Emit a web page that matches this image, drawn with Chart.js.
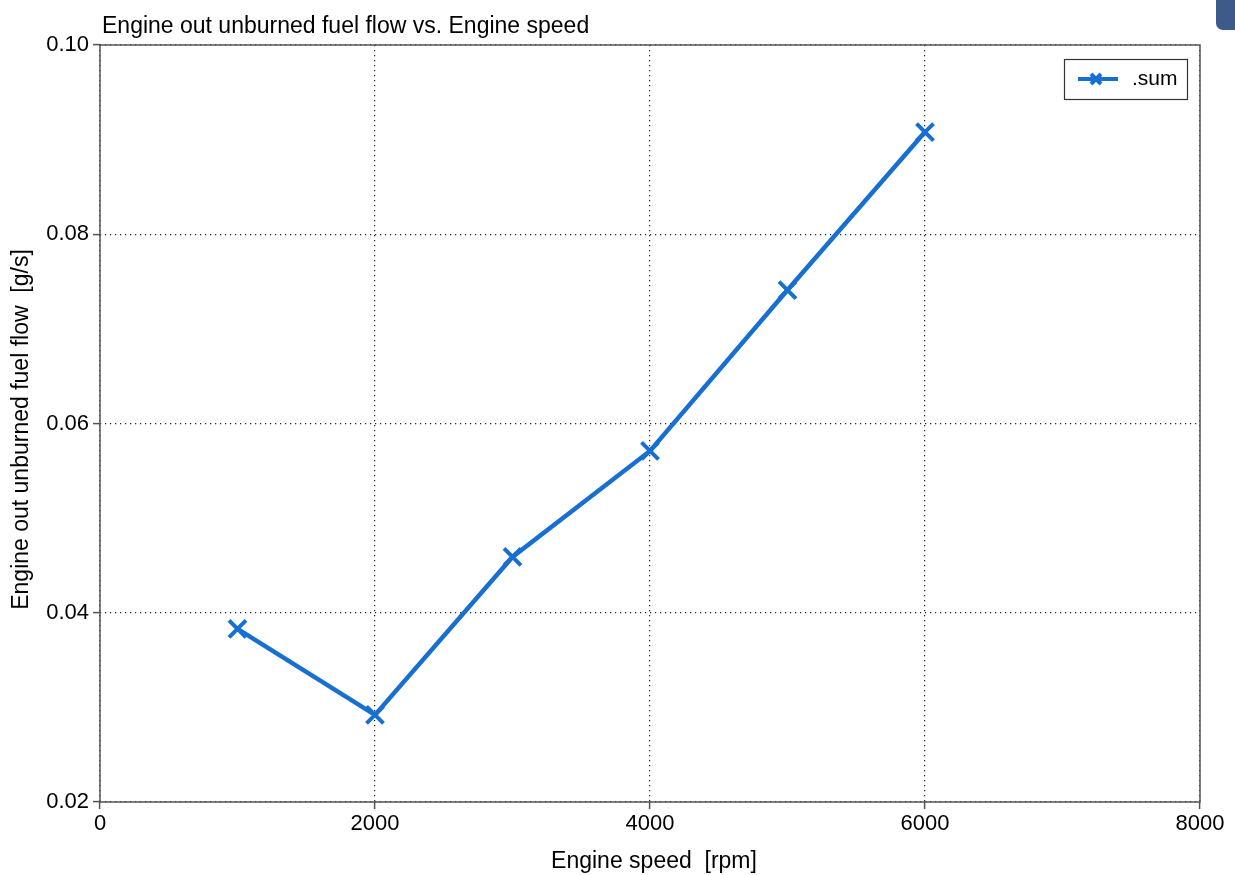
<!DOCTYPE html>
<html>
<head>
<meta charset="utf-8">
<script src="https://cdn.jsdelivr.net/npm/chart.js@4.4.1/dist/chart.umd.min.js"></script>
<style>
  html, body { margin: 0; padding: 0; background: #fff; }
  #wrap { position: relative; width: 1235px; height: 875px; }
  #tab { position: absolute; left: 1216px; top: -8px; width: 30px; height: 38px;
         background: #3d5a8a; border-radius: 7px; }
</style>
</head>
<body>
<div id="wrap">
  <canvas id="c" width="1235" height="875"></canvas>
  <div id="tab"></div>
</div>
<script>
// Engine speed sweep and summed unburned fuel flow
const engineSpeed = [1000, 2000, 3000, 4000, 5000, 6000];
const unburnedFuelFlow = [0.0383, 0.0292, 0.0459, 0.0571, 0.0741, 0.0908];
const xTicks = [0, 2000, 4000, 6000, 8000];
const yTicks = [0.02, 0.04, 0.06, 0.08, 0.10];
const seriesName = '.sum';
const chartTitle = 'Engine out unburned fuel flow vs. Engine speed';
const xTitle = 'Engine speed  [rpm]';
const yTitle = 'Engine out unburned fuel flow  [g/s]';

const LINE = '#176fd2';
const FONT = '"Liberation Sans", Arial, Helvetica, sans-serif';
const AXIS = '#555555';

// Frame, title, axis titles and inset legend
const decor = {
  id: 'decor',
  afterDraw(chart) {
    const ctx = chart.ctx;
    const a = chart.chartArea;
    ctx.save();
    ctx.strokeStyle = AXIS;
    ctx.lineWidth = 1.5;
    ctx.setLineDash([]);
    ctx.strokeRect(a.left, a.top, a.right - a.left, a.bottom - a.top);

    ctx.fillStyle = '#000';
    ctx.font = '23px ' + FONT;
    ctx.textBaseline = 'middle';
    ctx.textAlign = 'left';
    ctx.fillText(chartTitle, a.left + 2, 27);

    ctx.textAlign = 'center';
    ctx.fillText(xTitle, (a.left + a.right) / 2 + 4, 862);

    ctx.save();
    ctx.translate(22, (a.top + a.bottom) / 2 + 6);
    ctx.rotate(-Math.PI / 2);
    ctx.fillText(yTitle, 0, 0);
    ctx.restore();

    // legend box
    const lx = 1064, ly = 59, lw = 123, lh = 40;
    ctx.fillStyle = '#fff';
    ctx.fillRect(lx, ly, lw, lh);
    ctx.strokeStyle = '#333';
    ctx.lineWidth = 1.2;
    ctx.strokeRect(lx + 0.5, ly + 0.5, lw, lh);
    const cy = ly + lh / 2;
    ctx.strokeStyle = LINE;
    ctx.lineWidth = 4;
    ctx.beginPath();
    ctx.moveTo(lx + 14, cy);
    ctx.lineTo(lx + 54, cy);
    ctx.stroke();
    const m = 5;
    const mx = lx + 32;
    ctx.beginPath();
    ctx.moveTo(mx - m, cy - m); ctx.lineTo(mx + m, cy + m);
    ctx.moveTo(mx - m, cy + m); ctx.lineTo(mx + m, cy - m);
    ctx.stroke();
    ctx.fillStyle = '#000';
    ctx.textAlign = 'left';
    ctx.font = '21px ' + FONT;
    ctx.fillText(seriesName, lx + 68, cy);
    ctx.restore();
  }
};

const gridOpts = {
  color: '#222',
  lineWidth: 1.2,
  drawTicks: true,
  tickLength: 7,
  tickColor: AXIS,
  tickBorderDash: [],
  tickWidth: 1.5
};

new Chart(document.getElementById('c'), {
  type: 'line',
  data: {
    datasets: [{
      label: seriesName,
      data: engineSpeed.map((x, i) => ({ x: x, y: unburnedFuelFlow[i] })),
      borderColor: LINE,
      backgroundColor: LINE,
      borderWidth: 4.5,
      pointStyle: 'crossRot',
      pointRadius: 12,
      pointBorderWidth: 4,
      pointBorderColor: LINE,
      tension: 0,
      fill: false
    }]
  },
  options: {
    responsive: false,
    animation: false,
    devicePixelRatio: 1,
    layout: { padding: { top: 45, right: 35, left: 0, bottom: 0 } },
    plugins: {
      legend: { display: false },
      title: { display: false },
      tooltip: { enabled: false }
    },
    scales: {
      x: {
        type: 'linear',
        min: 0, max: 8000,
        afterBuildTicks(scale) { scale.ticks = xTicks.map(v => ({ value: v })); },
        afterFit(scale) { scale.height = 73; },
        ticks: {
          color: '#000',
          font: { family: FONT, size: 22 },
          padding: 2,
          maxRotation: 0,
          callback: v => String(v)
        },
        grid: gridOpts,
        border: { display: false, dash: [1.2, 3.8] }
      },
      y: {
        type: 'linear',
        min: 0.02, max: 0.10,
        afterBuildTicks(scale) { scale.ticks = yTicks.map(v => ({ value: v })); },
        afterFit(scale) { scale.width = 100; },
        ticks: {
          color: '#000',
          font: { family: FONT, size: 22 },
          padding: 4,
          callback: v => v.toFixed(2)
        },
        grid: gridOpts,
        border: { display: false, dash: [1.2, 3.8] }
      }
    }
  },
  plugins: [decor]
});
</script>
</body>
</html>
